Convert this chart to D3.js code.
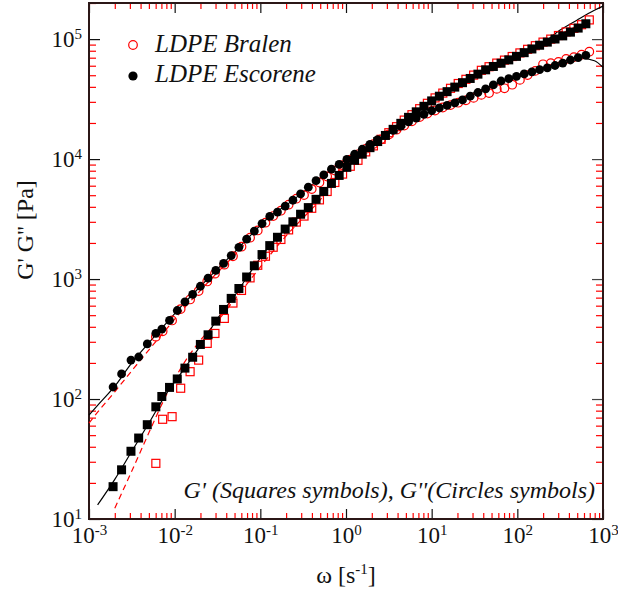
<!DOCTYPE html>
<html>
<head>
<meta charset="utf-8">
<script src="https://cdn.jsdelivr.net/npm/d3@7"></script>
</head>
<body style="margin:0">
<svg width="618" height="599" style="font-family:'Liberation Serif',serif"></svg>
<script>
// Escorene sweep: frequency [1/s] and moduli [Pa]
const escOmega = [0.00191,0.00240,0.00309,0.00380,0.00479,0.00603,0.00708,0.00871,
  0.01072,0.01318,0.01622,0.01995,0.02455,0.0302,0.0372,0.0457,0.0562,0.0692,
  0.0851,0.1047,0.1288,0.1585,0.195,0.240,0.295,0.363,0.447,0.550,0.676,0.832,
  1.023,1.259,1.549,1.905,2.344,2.884,3.548,4.365,5.370,6.607,8.128,10.0,12.30,
  15.14,18.62,22.91,28.18,34.67,42.66,52.48,64.57,79.43,97.72,120.2,147.9,182.0,
  223.9,275.4,338.8,416.9,512.9,631.0];
const escGp = [18.6,25.7,36.7,47.3,61.1,86.1,105,125,147,181,223,285,343,446,558,
  690,834,1040,1290,1600,1900,2230,2610,3000,3470,3940,4620,5370,6270,7310,8530,
  9770,10990,12450,14000,15740,17700,19860,22280,24770,27540,30550,33420,36480,
  39810,43350,46990,51050,55460,59160,62950,67140,71780,77090,82790,88920,94410,
  100230,106410,114290,123600,134280];
const escGpp = [126,162,211,224,288,353,382,452,547,646,745,871,1020,1180,1350,
  1570,1840,2150,2510,2900,3330,3620,4060,4540,5130,5830,6610,7380,8240,9020,9930,
  10970,12080,13240,14520,15850,17380,18790,20420,21980,23610,25290,26670,27990,
  29380,31120,33420,35890,38550,41500,44770,46770,48980,51290,53330,55590,57680,
  60260,63100,66990,70150,73110];

// Bralen sweep
const braOmega = [0.00603,0.00724,0.00933,0.01175,0.01514,0.01905,0.02399,0.02951,
  0.0380,0.0479,0.0603,0.0759,0.0933,0.1148,0.1413,0.1738,0.2138,0.2630,0.3236,
  0.3981,0.4898,0.6026,0.7413,0.912,1.122,1.380,1.698,2.089,2.570,3.162,3.890,
  4.786,5.888,7.244,8.913,10.96,13.49,16.60,20.42,25.12,30.90,38.02,46.77,57.54,
  70.79,87.10,107.2,131.8,162.2,199.5,245.5,302.0,371.5,457.1,562.3,691.8];
const braGp = [29.1,67.8,71.3,123,169,211,291,352,470,631,804,1023,1303,1549,1841,
  2138,2570,2985,3350,3890,4571,5370,6383,7499,8710,9772,11482,12882,14622,16596,
  18621,21135,23442,26303,29174,32359,35481,38905,42658,46238,50119,54954,58884,
  63096,66834,71614,76736,82224,88105,94406,100000,107152,114815,123027,131826,
  144544];
const braGpp = [331,367,452,562,676,794,955,1109,1318,1549,1862,2213,2541,2951,
  3350,3715,4169,4677,5012,5623,6383,7161,8035,8913,9886,10965,12162,13335,14622,
  16032,17579,19055,20654,22387,23988,25410,26915,28184,29512,30903,32359,34277,
  35481,38459,38905,41687,45709,50119,54325,61660,63096,64565,68391,70795,74131,
  78524];

// model fits (null = not drawn)
const fitOmega = [0.001,0.00126,0.002,0.00316,0.00501,0.00794,0.0126,0.02,0.0316,
  0.0501,0.0794,0.126,0.2,0.316,0.501,0.794,1.26,2.0,3.16,5.01,7.94,12.6,20,31.6,
  50.1,79.4,126,200,316,501,794,1000];
const escFitGp = [null,13.1,21.4,36.7,63.1,110,174,279,468,724,1189,1862,2661,3589,
  5012,7079,9772,12735,16596,21627,27227,33884,41210,48978,58210,67608,79433,93325,
  118850,144544,173780,188365];
const escFitGpp = [73.6,88.5,128,200,295,427,617,871,1216,1679,2371,3273,4121,5309,
  6918,8913,10965,13490,16406,19724,23442,27227,31261,35892,40738,46238,51880,57544,
  63826,69984,66069,58210];
const braFitGp = [null,null,12.3,25.1,52.5,107,195,309,447,676,1023,1549,2291,3236,
  4571,6918,9772,13032,16596,21380,26915,33497,40738,48978,57544,67608,79433,93325,
  109648,128825,null,null];
const braFitGpp = [63,77.6,115,172,257,380,562,804,1135,1585,2239,3090,3981,5129,
  6761,8710,10839,13335,16218,19498,23174,26915,30903,35075,39811,45186,51286,58210,
  64565,69984,null,null];

const xMajor = [1e-3,1e-2,1e-1,1,10,100,1000];
const yMajor = [10,100,1000,10000,100000];

const plotLeft = 89, plotRight = 603, plotTop = 3, plotBottom = 519;
const svg = d3.select("svg");

const x = d3.scaleLog().domain([1e-3, 1e3]).range([plotLeft, plotRight]);
const y = d3.scaleLog().domain([10, 2e5]).range([plotBottom, plotTop]);

const xMinor = x.ticks().filter(v => !xMajor.some(m => Math.abs(m - v) / m < 1e-6));
const yMinor = y.ticks().filter(v => !yMajor.some(m => Math.abs(m - v) / m < 1e-6));

const red = "#ff0000";
const frame = "#2b1717";

function supLabels(g) {
    g.selectAll(".tick text").each(function(d) {
        const e = Math.round(Math.log10(d));
        const t = d3.select(this).text(null).attr("font-size", 23);
        t.append("tspan").text("10");
        t.append("tspan").attr("font-size", 15).attr("dy", "-8").text(e);
    });
}

function styleTicks(g, color) {
    g.select(".domain").remove();
    g.attr("font-family", "Times New Roman").attr("font-size", null);
    g.selectAll(".tick line").attr("stroke", color).attr("stroke-width", 1.2);
}

// minor ticks (red)
svg.append("g").attr("transform", `translate(0,${plotBottom})`)
    .call(d3.axisBottom(x).tickValues(xMinor).tickSize(-6).tickFormat(""))
    .call(g => styleTicks(g, red));
svg.append("g").attr("transform", `translate(0,${plotTop})`)
    .call(d3.axisTop(x).tickValues(xMinor).tickSize(-6).tickFormat(""))
    .call(g => styleTicks(g, red));
svg.append("g").attr("transform", `translate(${plotLeft},0)`)
    .call(d3.axisLeft(y).tickValues(yMinor).tickSize(-7).tickFormat(""))
    .call(g => styleTicks(g, red));
svg.append("g").attr("transform", `translate(${plotRight},0)`)
    .call(d3.axisRight(y).tickValues(yMinor).tickSize(-7).tickFormat(""))
    .call(g => styleTicks(g, red));

// major ticks + labels
svg.append("g").attr("transform", `translate(0,${plotBottom})`)
    .call(d3.axisBottom(x).tickValues(xMajor).tickSize(-10).tickPadding(8))
    .call(g => styleTicks(g, "#111"))
    .call(supLabels);
svg.append("g").attr("transform", `translate(0,${plotTop})`)
    .call(d3.axisTop(x).tickValues(xMajor).tickSize(-10).tickFormat(""))
    .call(g => styleTicks(g, "#111"));
svg.append("g").attr("transform", `translate(${plotLeft},0)`)
    .call(d3.axisLeft(y).tickValues(yMajor).tickSize(-11).tickPadding(7))
    .call(g => styleTicks(g, "#111"))
    .call(supLabels);
svg.append("g").attr("transform", `translate(${plotRight},0)`)
    .call(d3.axisRight(y).tickValues(yMajor).tickSize(-11).tickFormat(""))
    .call(g => styleTicks(g, "#444"));

// plot frame
svg.append("rect")
    .attr("x", plotLeft).attr("y", plotTop)
    .attr("width", plotRight - plotLeft).attr("height", plotBottom - plotTop)
    .attr("fill", "none").attr("stroke", frame).attr("stroke-width", 2);

const plot = svg.append("g");

// fit lines
const line = d3.line()
    .defined(d => d[1] != null)
    .x(d => x(d[0])).y(d => y(d[1]))
    .curve(d3.curveMonotoneX);

[[braFitGp, red, "6,4"], [braFitGpp, red, "6,4"],
 [escFitGp, "#000", null], [escFitGpp, "#000", null]].forEach(([vals, col, dash]) => {
    plot.append("path")
        .datum(d3.zip(fitOmega, vals))
        .attr("fill", "none")
        .attr("stroke", col)
        .attr("stroke-width", 1.2)
        .attr("stroke-dasharray", dash)
        .attr("d", line);
});

// Bralen: open red symbols
plot.append("g").selectAll("rect")
    .data(d3.zip(braOmega, braGp))
    .join("rect")
    .attr("x", d => x(d[0]) - 4).attr("y", d => y(d[1]) - 4)
    .attr("width", 8).attr("height", 8)
    .attr("fill", "none").attr("stroke", red).attr("stroke-width", 1.2);
plot.append("g").selectAll("circle")
    .data(d3.zip(braOmega, braGpp))
    .join("circle")
    .attr("cx", d => x(d[0])).attr("cy", d => y(d[1]))
    .attr("r", 4.3)
    .attr("fill", "none").attr("stroke", red).attr("stroke-width", 1.2);

// Escorene: filled black symbols
plot.append("g").selectAll("rect")
    .data(d3.zip(escOmega, escGp))
    .join("rect")
    .attr("x", d => x(d[0]) - 4.5).attr("y", d => y(d[1]) - 4.5)
    .attr("width", 9).attr("height", 9)
    .attr("fill", "#000");
plot.append("g").selectAll("circle")
    .data(d3.zip(escOmega, escGpp))
    .join("circle")
    .attr("cx", d => x(d[0])).attr("cy", d => y(d[1]))
    .attr("r", 4.4)
    .attr("fill", "#000");

// legend
svg.append("circle").attr("cx", 133).attr("cy", 45).attr("r", 4.3)
    .attr("fill", "none").attr("stroke", red).attr("stroke-width", 1.2);
svg.append("text").attr("x", 155).attr("y", 52)
    .attr("font-size", 25).attr("font-style", "italic").text("LDPE Bralen");
svg.append("circle").attr("cx", 133).attr("cy", 76).attr("r", 4.6).attr("fill", "#000");
svg.append("text").attr("x", 155).attr("y", 82)
    .attr("font-size", 25).attr("font-style", "italic").text("LDPE Escorene");

// annotation
svg.append("text").attr("x", 595).attr("y", 498)
    .attr("text-anchor", "end")
    .attr("font-size", 24).attr("font-style", "italic")
    .text("G' (Squares symbols), G''(Circles symbols)");

// axis titles
const xt = svg.append("text").attr("x", 346).attr("y", 583)
    .attr("text-anchor", "middle").attr("font-size", 24);
xt.append("tspan").text("\u03c9 [s");
xt.append("tspan").attr("font-size", 15).attr("dy", "-9").text("-1");
xt.append("tspan").attr("dy", "9").text("]");

svg.append("text")
    .attr("transform", "translate(33,230) rotate(-90)")
    .attr("text-anchor", "middle").attr("font-size", 24)
    .text("G' G'' [Pa]");

svg.selectAll("text")
    .attr("font-family", "Times New Roman")
    .attr("fill", "#111");
</script>
</body>
</html>
